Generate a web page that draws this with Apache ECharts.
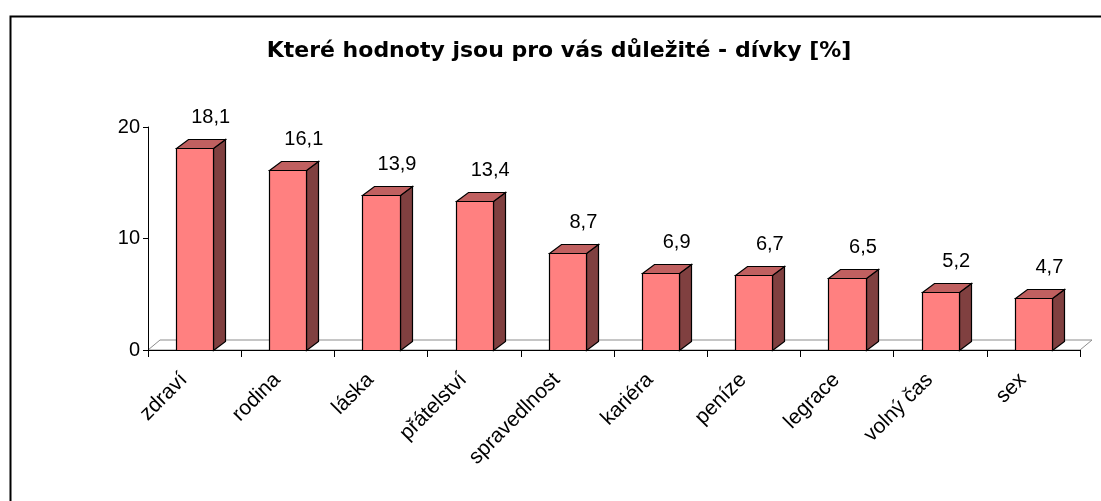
<!DOCTYPE html>
<html>
<head>
<meta charset="utf-8">
<script src="https://cdn.jsdelivr.net/npm/echarts@6/dist/echarts.min.js"></script>
<style>
  html, body { margin: 0; padding: 0; background: #fff; }
  #chart { width: 1101px; height: 501px; }
</style>
</head>
<body>
<div id="chart"></div>
<script>
var categories = ['zdraví', 'rodina', 'láska', 'přátelství', 'spravedlnost', 'kariéra', 'peníze', 'legrace', 'volný čas', 'sex'];
var values = [18.1, 16.1, 13.9, 13.4, 8.7, 6.9, 6.7, 6.5, 5.2, 4.7];
var yTicks = [0, 10, 20];

var FONT = '"Liberation Sans", Arial, sans-serif';
var DX = 12, DY = 9;

var chart = echarts.init(document.getElementById('chart'));

function renderFloor(params, api) {
  var cs = params.coordSys;
  var x0 = cs.x, x1 = cs.x + cs.width, y0 = cs.y + cs.height;
  return {
    type: 'polygon',
    silent: true,
    shape: { points: [[x0, y0], [x0 + 12, y0 - 10], [x1 + 12, y0 - 10], [x1, y0]] },
    style: { fill: '#fff', stroke: '#8c8c8c', lineWidth: 1 },
    z2: 0
  };
}

function renderBar(params, api) {
  var idx = api.value(0);
  var val = api.value(1);
  var base = api.coord([idx, 0]);
  var top = api.coord([idx, val]);
  var w = api.size([1, 0])[0] * 0.4;
  var l = Math.round(base[0] - w / 2) + 0.5, r = Math.round(base[0] + w / 2) + 0.5;
  var t = Math.round(top[1]) + 0.5, b = Math.round(base[1]) + 0.5;
  var line = { stroke: '#000', lineWidth: 1.2 };
  return {
    type: 'group',
    children: [
      { type: 'polygon', shape: { points: [[r, b], [r + DX, b - DY], [r + DX, t - DY], [r, t]] },
        style: Object.assign({ fill: '#804040' }, line) },
      { type: 'polygon', shape: { points: [[l, t], [l + DX, t - DY], [r + DX, t - DY], [r, t]] },
        style: Object.assign({ fill: '#c06060' }, line) },
      { type: 'rect', shape: { x: l, y: t, width: r - l, height: b - t },
        style: Object.assign({ fill: '#ff8080' }, line) },
      { type: 'text', x: base[0] + 16, y: t - DY - 22,
        style: { text: String(val).replace('.', ','), font: '20px ' + FONT, fill: '#000',
                 align: 'center', verticalAlign: 'middle' } }
    ]
  };
}

chart.setOption({
  animation: false,
  title: {
    text: 'Které hodnoty jsou pro vás důležité - dívky [%]',
    left: 554, top: 35, textAlign: 'center',
    textStyle: { fontFamily: '"DejaVu Sans", sans-serif', fontWeight: 'bold', fontSize: 22, color: '#000' }
  },
  graphic: [{
    type: 'rect', left: 8, top: 14,
    shape: { width: 1200, height: 600 },
    style: { fill: 'none', stroke: '#000', lineWidth: 2 }
  }],
  grid: { left: 148, right: 21, top: 127, bottom: 151, containLabel: false },
  xAxis: {
    type: 'category',
    data: categories,
    boundaryGap: true,
    axisLine: { show: true, lineStyle: { color: '#000', width: 1 } },
    axisTick: { show: true, length: 7, lineStyle: { color: '#000' } },
    axisLabel: { rotate: 45, margin: 16, padding: [0, 15, 0, 0], fontFamily: FONT, fontSize: 21, color: '#000', interval: 0 },
    z: 10
  },
  yAxis: {
    type: 'value',
    min: yTicks[0], max: yTicks[yTicks.length - 1], interval: 10,
    axisLine: { show: true, lineStyle: { color: '#000', width: 1 } },
    axisTick: { show: true, length: 5, lineStyle: { color: '#000' } },
    axisLabel: { margin: 8, fontFamily: FONT, fontSize: 20, color: '#000' },
    splitLine: { show: false },
    z: 10
  },
  series: [
    {
      type: 'custom',
      renderItem: renderFloor,
      data: [[0, 0]],
      silent: true,
      z: 1
    },
    {
      type: 'custom',
      renderItem: renderBar,
      data: values.map(function (v, i) { return [i, v]; }),
      encode: { x: 0, y: 1 },
      z: 2
    }
  ]
});
</script>
</body>
</html>
